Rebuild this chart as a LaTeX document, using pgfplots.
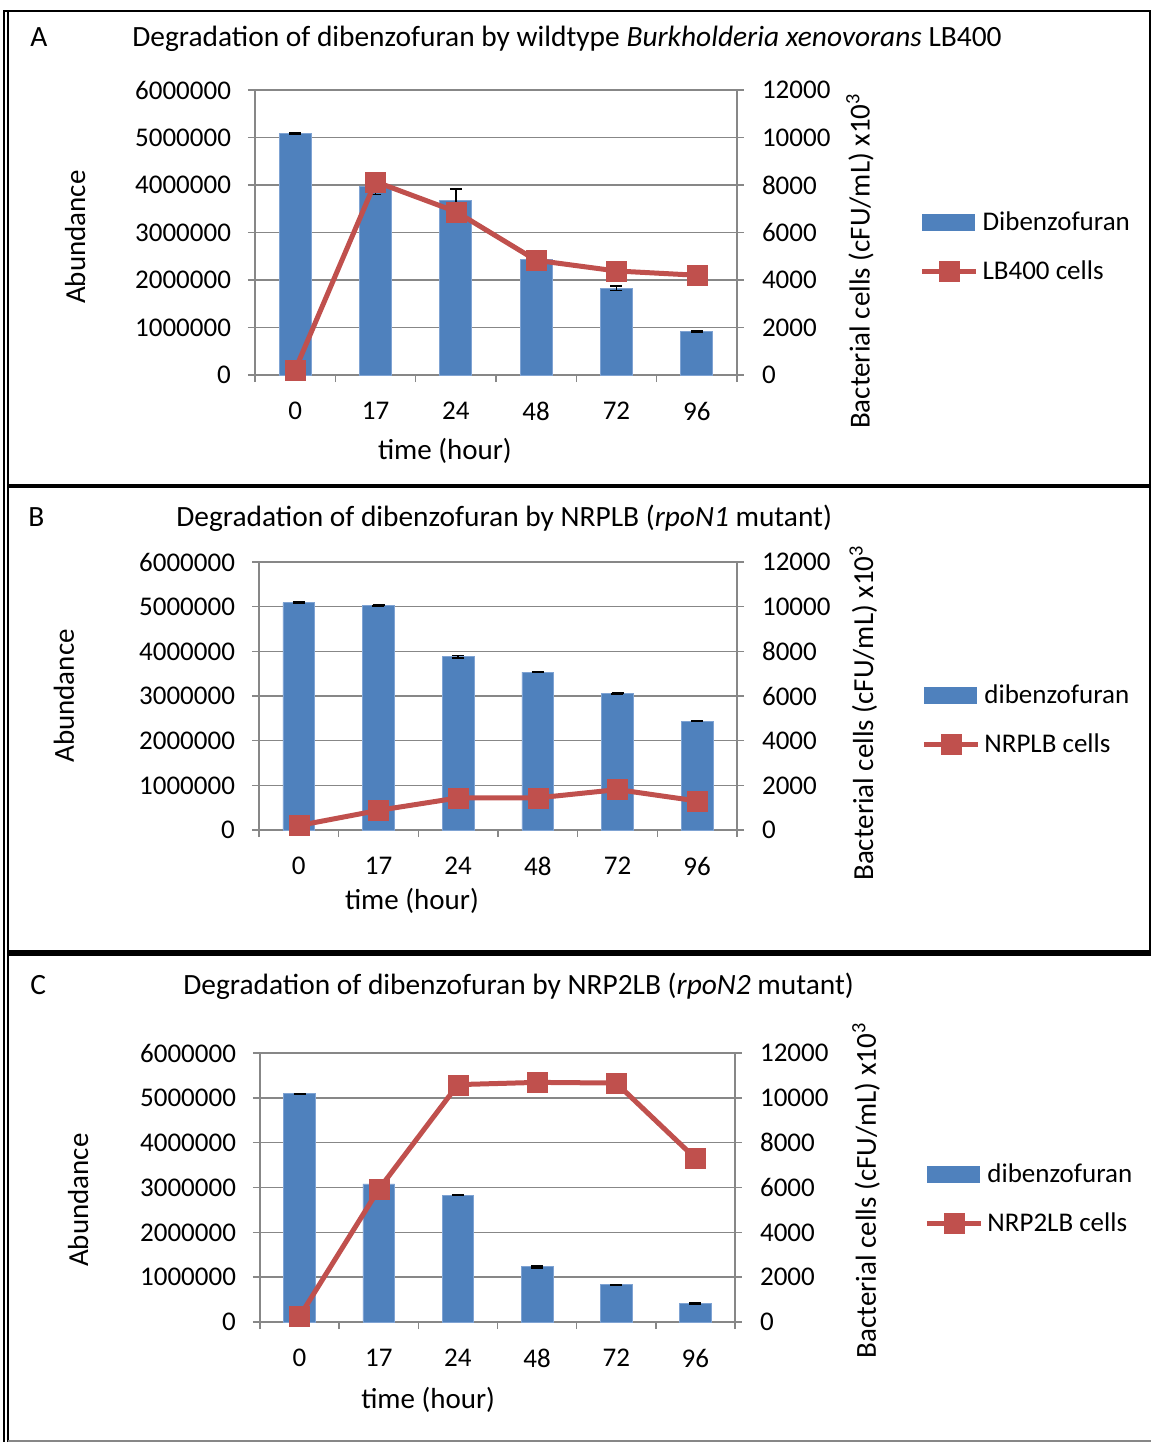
\documentclass[border=0pt]{standalone}
\usepackage{fontspec}
\setmainfont{Carlito}
\usepackage{pgfplots}
\usepackage{pgfplotstable}
\pgfplotsset{compat=1.18}

\definecolor{barblue}{HTML}{4F81BD}
\definecolor{baredge}{HTML}{7FA3D3}
\definecolor{linered}{HTML}{C0504D}
\definecolor{gridgray}{HTML}{878787}

\newcommand{\tickfont}{\fontsize{13.5}{16.2}\selectfont}
\newcommand{\labelfont}{\fontsize{14.5}{17.4}\selectfont}
\newcommand{\titlefont}{\fontsize{14.7}{17.6}\selectfont}

% Dibenzofuran abundance (mean, error) and cell counts (x10^3 cFU/mL)
\pgfplotstableread{
x y e
0 5090000 15000
1 3970000 170000
2 3680000 240000
3 2430000 15000
4 1825000 45000
5 910000 15000
}\barsA
\pgfplotstableread{
x y
0 220
1 8140
2 6880
3 4830
4 4380
5 4200
}\cellsA
\pgfplotstableread{
x y e
0 5090000 12000
1 5030000 12000
2 3880000 25000
3 3535000 12000
4 3060000 12000
5 2440000 12000
}\barsB
\pgfplotstableread{
x y
0 200
1 880
2 1440
3 1440
4 1810
5 1300
}\cellsB
\pgfplotstableread{
x y e
0 5090000 12000
1 3080000 12000
2 2830000 12000
3 1230000 25000
4 830000 12000
5 410000 12000
}\barsC
\pgfplotstableread{
x y
0 250
1 5920
2 10590
3 10690
4 10660
5 7300
}\cellsC

\pgfplotsset{
  panelcommon/.style={
    scale only axis,
    xmin=-0.5, xmax=5.5,
    font=\tickfont,
    /pgf/number format/assume math mode=true,
    scaled y ticks=false,
    axis line style={gridgray, line width=0.75pt},
    tick style={gridgray, line width=0.75pt},
    tick align=outside,
    major tick length=3.5pt,
    clip=false,
  },
  abundanceaxis/.style={
    panelcommon,
    ymin=0, ymax=6000000,
    axis y line*=left, axis x line*=bottom,
    xtick={-0.5,0.5,...,5.5},
    xticklabels={0,17,24,48,72,96},
    x tick label as interval,
    xticklabel style={yshift=-6.5pt},
    ytick={0,1000000,2000000,3000000,4000000,5000000,6000000},
    yticklabels={0,1000000,2000000,3000000,4000000,5000000,6000000},
    yticklabel style={xshift=-5pt},
    ymajorgrids,
    grid style={gridgray, line width=0.75pt},
    xlabel={time (hour)},
    ylabel={Abundance},
    every axis y label/.style={rotate=90, anchor=center, font=\labelfont},
    every axis x label/.style={anchor=center, font=\labelfont},
  },
  cellaxis/.style={
    panelcommon,
    ymin=0, ymax=12000,
    axis y line*=right, axis x line=none,
    ytick={0,2000,4000,6000,8000,10000,12000},
    yticklabels={0,2000,4000,6000,8000,10000,12000},
    yticklabel style={xshift=5.5pt},
    ylabel={Bacterial cells (cFU/mL) x10\textsuperscript{3}},
    every axis y label/.style={rotate=90, anchor=center, font=\labelfont},
    legend style={draw=none, fill=none, inner sep=0pt, anchor=west,
      legend cell align=left, font=\tickfont, row sep=9.5pt},
  },
  barseries/.style={
    ybar, bar width=0.4, bar shift=0pt,
    fill=barblue, draw=baredge, line width=0.4pt,
    error bars/.cd, y dir=both, y explicit,
    error bar style={black, line width=0.75pt},
    error mark options={black, line width=0.75pt, mark size=3pt, rotate=90},
  },
  lineseries/.style={
    linered, line width=2.5pt,
    mark=square*, mark size=5pt,
    mark options={solid, fill=linered, draw=linered, line width=0.1pt},
    legend image code/.code={\draw[mark repeat=2,mark phase=2]
      plot coordinates {(0pt,0pt) (13.5pt,0pt) (27pt,0pt)};},
  },
  barlegendimage/.style={
    legend image code/.code={\fill[barblue] (0pt,-4pt) rectangle (26pt,4pt);},
  },
}

\begin{document}
\begin{tikzpicture}
% frame lines and panel titles
\begin{scope}[x=0.5pt, y=-0.5pt]
  \useasboundingbox (0,0) rectangle (1151,1442);
  \draw[line width=1pt] (4,10) -- (4,1442);
  \draw[line width=1pt] (7.5,12) -- (7.5,1442);
  \draw[line width=1pt] (3,11) -- (1150,11);
  \draw[line width=1pt] (1149.5,10) -- (1149.5,953);
  \draw[line width=2pt] (7,486) -- (1150,486);
  \draw[line width=3pt] (7,953) -- (1151,953);
  \draw[gridgray, line width=1pt] (8,1441) -- (1151,1441);
  \node[anchor=base west, font=\titlefont, inner sep=0pt] at (30,46) {A};
  \node[anchor=base west, font=\titlefont, inner sep=0pt] at (132,46)
    {Degradation of dibenzofuran by wildtype \textit{Burkholderia xenovorans} LB400};
  \node[anchor=base west, font=\titlefont, inner sep=0pt] at (28,526) {B};
  \node[anchor=base west, font=\titlefont, inner sep=0pt] at (176,526)
    {Degradation of dibenzofuran by NRPLB (\textit{rpoN1} mutant)};
  \node[anchor=base west, font=\titlefont, inner sep=0pt] at (30,994) {C};
  \node[anchor=base west, font=\titlefont, inner sep=0pt] at (183,994)
    {Degradation of dibenzofuran by NRP2LB (\textit{rpoN2} mutant)};
\end{scope}

% ---- Panel A ----
\begin{axis}[abundanceaxis, at={(127.5pt,-187.5pt)}, anchor=south west,
  width=241pt, height=142.5pt,
  xlabel style={at={(axis description cs:0.394,-0.267)}},
  ylabel style={at={(axis description cs:-0.373,0.484)}}]
  \addplot[barseries] table[x=x, y=y, y error=e] {\barsA};
\end{axis}
\begin{axis}[cellaxis, at={(127.5pt,-187.5pt)}, anchor=south west,
  width=241pt, height=142.5pt,
  ylabel style={at={(axis description cs:1.255,0.4)}},
  legend style={at={(axis description cs:1.378,0.449)}}]
  \addlegendimage{barlegendimage}
  \addlegendentry{Dibenzofuran}
  \addplot[lineseries] table[x=x, y=y] {\cellsA};
  \addlegendentry{LB400 cells}
\end{axis}

% ---- Panel B ----
\begin{axis}[abundanceaxis, at={(129.5pt,-415pt)}, anchor=south west,
  width=239pt, height=134pt,
  xlabel style={at={(axis description cs:0.32,-0.265)}},
  ylabel style={at={(axis description cs:-0.408,0.5)}}]
  \addplot[barseries] table[x=x, y=y, y error=e] {\barsB};
\end{axis}
\begin{axis}[cellaxis, at={(129.5pt,-415pt)}, anchor=south west,
  width=239pt, height=134pt,
  ylabel style={at={(axis description cs:1.264,0.437)}},
  legend style={at={(axis description cs:1.385,0.41)}}]
  \addlegendimage{barlegendimage}
  \addlegendentry{dibenzofuran}
  \addplot[lineseries] table[x=x, y=y] {\cellsB};
  \addlegendentry{NRPLB cells}
\end{axis}

% ---- Panel C ----
\begin{axis}[abundanceaxis, at={(130pt,-661pt)}, anchor=south west,
  width=237.5pt, height=134.5pt,
  xlabel style={at={(axis description cs:0.354,-0.29)}},
  ylabel style={at={(axis description cs:-0.383,0.4535)}}]
  \addplot[barseries] table[x=x, y=y, y error=e] {\barsC};
\end{axis}
\begin{axis}[cellaxis, at={(130pt,-661pt)}, anchor=south west,
  width=237.5pt, height=134.5pt,
  ylabel style={at={(axis description cs:1.276,0.49)}},
  legend style={at={(axis description cs:1.398,0.457)}}]
  \addlegendimage{barlegendimage}
  \addlegendentry{dibenzofuran}
  \addplot[lineseries] table[x=x, y=y] {\cellsC};
  \addlegendentry{NRP2LB cells}
\end{axis}
\end{tikzpicture}
\end{document}
